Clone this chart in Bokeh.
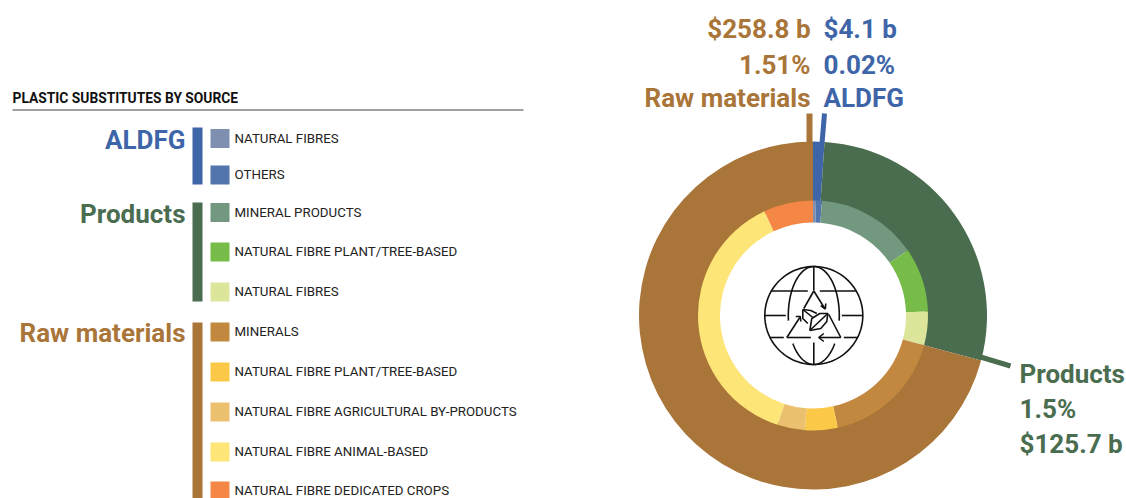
import math
import numpy as np
from bokeh.plotting import figure
from bokeh.models import Range1d
from bokeh.core.properties import value
from bokeh.embed import file_html
from bokeh.resources import INLINE

# ---- data (shares of the ring, in degrees) ----
groups = ["ALDFG", "Products", "Raw materials"]
group_colors = ["#3E65A8", "#4A6D50", "#A97539"]
outer_values = [3.8, 101.2, 255.0]

inner_names = ["NATURAL FIBRES", "OTHERS", "MINERAL PRODUCTS", "NATURAL FIBRE PLANT/TREE-BASED",
               "NATURAL FIBRES", "MINERALS", "NATURAL FIBRE PLANT/TREE-BASED",
               "NATURAL FIBRE AGRICULTURAL BY-PRODUCTS", "NATURAL FIBRE ANIMAL-BASED",
               "NATURAL FIBRE DEDICATED CROPS"]
inner_colors = ["#7F8FAF", "#5275AD", "#729880", "#77BB48", "#DDE59B",
                "#C28840", "#FBC847", "#EBC06E", "#FDE577", "#F48646"]
inner_values = [1.5, 3.0, 51.0, 32.5, 17.0, 62.5, 16.5, 14.0, 137.0, 25.0]

raw_lines = ["$258.8 b", "1.51%", "Raw materials"]
aldfg_lines = ["$4.1 b", "0.02%", "ALDFG"]
products_lines = ["Products", "1.5%", "$125.7 b"]
title_text = "PLASTIC SUBSTITUTES BY SOURCE"

# ---- page geometry ----
W, H = 1126, 498
FONT = value("Roboto")
p = figure(width=W, height=H, output_backend="svg", toolbar_location=None,
           x_range=Range1d(0, W), y_range=Range1d(0, H), min_border=0)
p.axis.visible = False
p.grid.visible = False
p.outline_line_color = None
p.background_fill_color = "white"
p.border_fill_color = "white"

def Y(py):
    return 498 - py

CX, CY = 812.5, Y(315)


def ring(values, colors, r0, r1):
    edges = np.concatenate([[0], np.cumsum(values)])
    starts = np.pi / 2 - np.radians(edges[:-1])
    ends = np.pi / 2 - np.radians(edges[1:])
    p.annular_wedge(x=[CX] * len(values), y=[CY] * len(values), inner_radius=r0, outer_radius=r1,
                    start_angle=starts, end_angle=ends, direction="clock",
                    fill_color=colors, line_color=None)


ring(outer_values, group_colors, 112, 174)
ring(inner_values, inner_colors, 93, 115)

# callout leaders
p.line([809, 809], [Y(113), Y(143)], line_color=group_colors[2], line_width=6)
p.line([824, 821.5], [Y(113), Y(143)], line_color=group_colors[0], line_width=5)
p.line([975, 1010], [Y(355), Y(365.5)], line_color=group_colors[1], line_width=5)


def txt(x, py, s, color, size, align="left", bold=True):
    # py is the vertical centre of the capitals
    p.text(x=[x], y=[Y(py)], text=[s], text_color=color, text_font=FONT,
           text_font_size=f"{size}px", text_font_style="bold" if bold else "normal",
           text_align=align, text_baseline="middle")


BIG = 26
for py, s in zip([28.5, 64, 97], raw_lines):
    txt(810, py, s, group_colors[2], BIG, "right")
for py, s in zip([28.5, 64, 97], aldfg_lines):
    txt(823, py, s, group_colors[0], BIG)
for py, s in zip([373.5, 408, 443], products_lines):
    txt(1019, py, s, group_colors[1], BIG)

# legend
txt(12, 97, title_text, "#111111", 13.8)
p.line([12, 523], [Y(109.5), Y(109.5)], line_color="#444444", line_width=1)

group_spans = [(127, 184), (202, 301), (322, 498)]
group_base = [139, 213, 332.5]
for name, col, (a, b), base in zip(groups, group_colors, group_spans, group_base):
    p.quad(left=[192], right=[202], top=[Y(a)], bottom=[Y(b)], fill_color=col, line_color=None)
    txt(185, base, name, col, BIG, "right")

rows = [138, 174.5, 212, 251.5, 291.5, 331.5, 371.5, 411.5, 451.5, 490.5]
for name, col, cy in zip(inner_names, inner_colors, rows):
    p.quad(left=[210], right=[229], top=[Y(cy - 9.5)], bottom=[Y(cy + 9.5)], fill_color=col, line_color=None)
    txt(234, cy - 0.5, name, "#222222", 13.3, bold=False)

# ---- globe icon (decoration), coordinates relative to the centre ----
IC = "#111111"


def stroke(pts, w=1.6):
    xs = [CX + 0.8 + a for a, _ in pts]
    ys = [CY - b for _, b in pts]
    p.line(xs, ys, line_color=IC, line_width=w)


def curve(fn, t0, t1, n=40):
    return [fn(t) for t in np.linspace(t0, t1, n)]


R = 49
stroke(curve(lambda t: (R * math.cos(t), R * math.sin(t)), 0, 2 * math.pi, 120))
for sx in (-1, 1):
    stroke(curve(lambda t: (sx * 25.5 * math.cos(t), R * math.sin(t)), math.radians(-90), math.radians(6)))
    stroke(curve(lambda t: (sx * 25.5 * math.cos(t), R * math.sin(t)), math.radians(35), math.radians(90)))
stroke([(-43, -24.5), (-6, -24.5)])
stroke([(6, -24.5), (43, -24.5)])
stroke([(-49, 0), (-28, 0)])
stroke([(28, 0), (49, 0)])
stroke([(-44, 22), (-30, 22)])
stroke([(30, 22), (44, 22)])
stroke([(-27, 22), (-3, 22)])
stroke([(5, 22), (27, 22)])
stroke([(0, -49), (0, -25)])
stroke([(0, 27), (0, 49)])
# triangle with arrows
stroke([(0, -24.5), (11, -7)])
stroke([(7, -10), (11.5, -6.5), (12, -12)])
stroke([(15, -1), (27, 22)])
stroke([(-27, 22), (-14, 2)])
stroke([(-18, 1), (-13.5, 1), (-13, 6)])
stroke([(-10, -7), (0, -24.5)])
stroke([(10, 18), (5, 22), (10, 26)])
# leaves
stroke([(-4, 15), (-2, 3), (6, -2), (14, -2), (13, 6), (7, 13), (-4, 15)])
stroke([(-4, 15), (14, -2)])
stroke([(-11, -6), (-3, -5), (3, -2)])
stroke([(-11, -6), (-11, 3), (-6, 8)])
stroke([(-11, -6), (-1, 2)])

open("out.html", "w").write(file_html(p, INLINE))
